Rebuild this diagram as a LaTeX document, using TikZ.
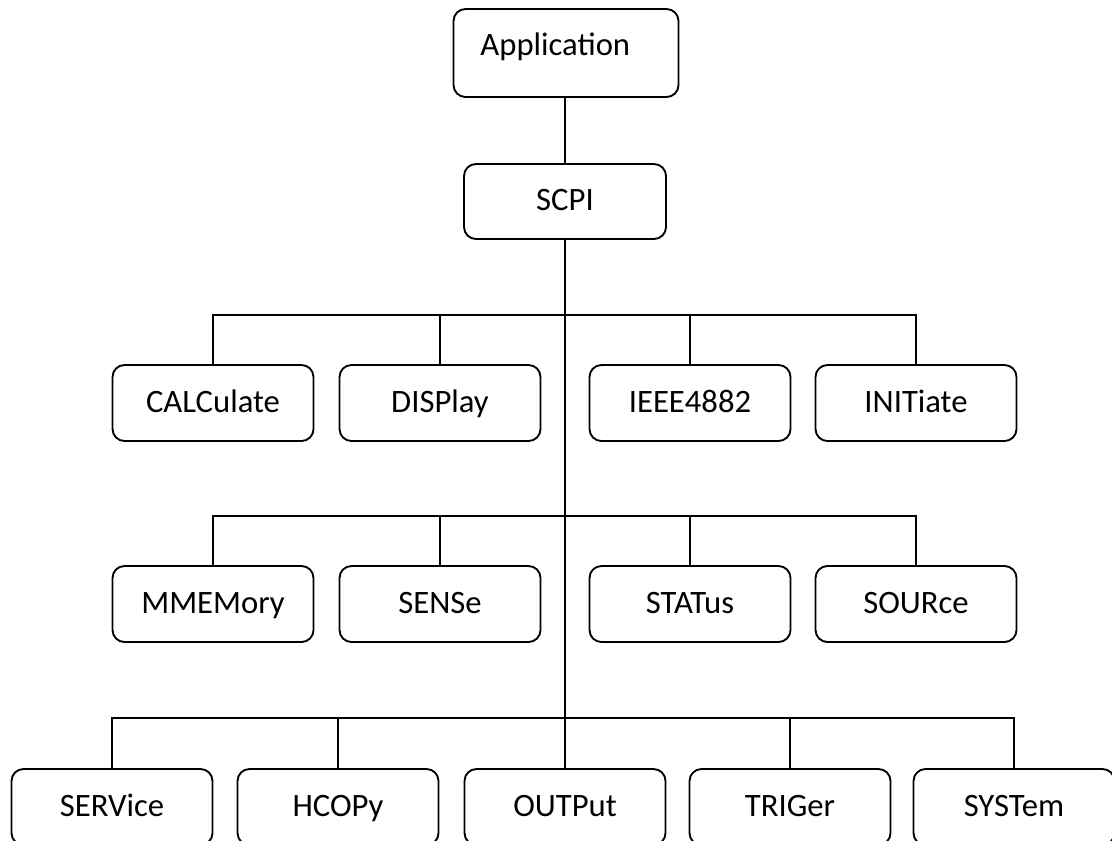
\documentclass[tikz,border=0pt]{standalone}
\usepackage{fontspec}
\setmainfont{Carlito}
\usetikzlibrary{positioning}

\begin{document}
\begin{tikzpicture}[x=0.75pt, y=-0.75pt, font=\fontsize{24.5}{28}\selectfont,
    txt/.style={text height=17pt, text depth=3.5pt},
    cmd/.style={draw, line width=1.4pt, rounded corners=9pt, inner sep=0pt, txt,
                minimum width=150.75pt, minimum height=57pt},
    bus/.style={line width=1.4pt}]

    \useasboundingbox (0,0) rectangle (1112,840);

    % Top of the tree
    \node[cmd, minimum width=168.75pt, minimum height=66pt,
          label={[txt, xshift=-8pt, yshift=5.25pt]center:Application}] (app) at (566,53) {};
    \node[cmd, minimum width=151.5pt, minimum height=56.25pt] (scpi) at (565,201.5) {SCPI};
    \draw[bus] (app.south -| scpi) -- (scpi);

    % Row 1
    \node[cmd] (calc) at (213,403) {CALCulate};
    \node[cmd] (disp) at (440,403) {DISPlay};
    \node[cmd] (ieee) at (690,403) {IEEE4882};
    \node[cmd] (init) at (916,403) {INITiate};

    % Row 2
    \node[cmd] (mmem) at (213,604) {MMEMory};
    \node[cmd] (sens) at (440,604) {SENSe};
    \node[cmd] (stat) at (690,604) {STATus};
    \node[cmd] (sour) at (916,604) {SOURce};

    % Row 3 (cut by the bottom edge)
    \node[cmd] (serv) at (112,807) {SERVice};
    \node[cmd] (hcop) at (338,807) {HCOPy};
    \node[cmd] (outp) at (565,807) {OUTPut};
    \node[cmd] (trig) at (790,807) {TRIGer};
    \node[cmd] (syst) at (1014,807) {SYSTem};

    % Trunk and busses
    \coordinate (bus1) at (565,315);
    \coordinate (bus2) at (565,516);
    \coordinate (bus3) at (565,718);
    \draw[bus] (scpi) -- (outp);

    \draw[bus] (calc.north) |- (bus1) -| (init.north);
    \foreach \n in {disp, ieee}
        \draw[bus] (\n.north) -- (\n.north |- bus1);

    \draw[bus] (mmem.north) |- (bus2) -| (sour.north);
    \foreach \n in {sens, stat}
        \draw[bus] (\n.north) -- (\n.north |- bus2);

    \draw[bus] (serv.north) |- (bus3) -| (syst.north);
    \foreach \n in {hcop, trig}
        \draw[bus] (\n.north) -- (\n.north |- bus3);

\end{tikzpicture}
\end{document}
